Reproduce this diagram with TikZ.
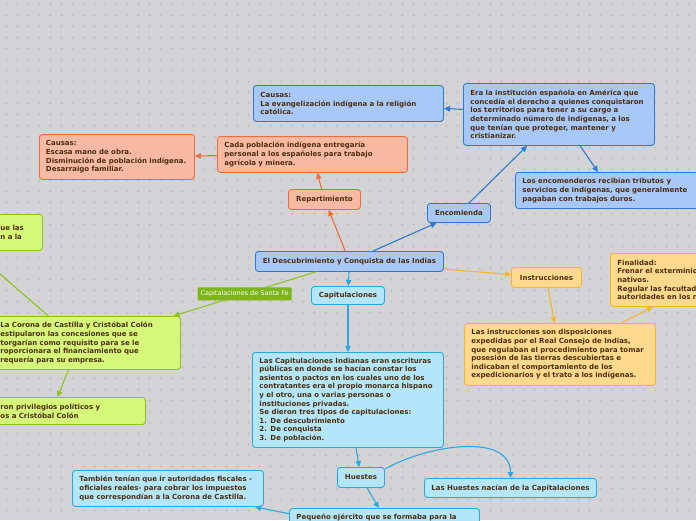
\documentclass[tikz,border=0pt]{standalone}
\usepackage{fontspec}
\setmainfont{DejaVu Sans}
\usetikzlibrary{arrows.meta}
\definecolor{bgmap}{HTML}{D4D4D6}
\definecolor{bgdot}{HTML}{C4C4C8}
\definecolor{txtbrown}{HTML}{4D2E0C}
\definecolor{blfill}{HTML}{A8C8FA}
\definecolor{blline}{HTML}{2E78D8}
\definecolor{safill}{HTML}{F9B9A2}
\definecolor{saline}{HTML}{F26B3A}
\definecolor{grfill}{HTML}{D5F87B}
\definecolor{grline}{HTML}{8EC31E}
\definecolor{grtag}{HTML}{7CB518}
\definecolor{yefill}{HTML}{FFD98E}
\definecolor{yeline}{HTML}{F6B52B}
\definecolor{cyfill}{HTML}{B3E5FB}
\definecolor{cyline}{HTML}{2BA8E3}

\begin{document}
\begin{tikzpicture}[x=1pt,y=-1pt,font=\fontsize{7}{8.6}\selectfont\bfseries,
  bx/.style={rounded corners=3pt,line width=0.9pt,text=txtbrown,anchor=north west,align=left,inner xsep=7pt,inner ysep=2pt},
  tg/.style={bx,align=center,inner xsep=3pt},
  sz/.style 2 args={minimum width=#1,minimum height=#2},
  bl/.style={fill=blfill,draw=blline},
  sa/.style={fill=safill,draw=saline},
  gr/.style={fill=grfill,draw=grline},
  ye/.style={fill=yefill,draw=yeline},
  cy/.style={fill=cyfill,draw=cyline},
  sft/.style={fill=grtag,text=white,font=\fontsize{6.5}{7}\selectfont\mdseries,rounded corners=1pt,inner xsep=3pt,minimum height=12},
  ar/.style={color=#1,line width=1.1pt,-{Triangle[length=6pt,width=5.5pt]}}]
  \useasboundingbox (0,0) rectangle (696,520);
  \clip (0,0) rectangle (696,520);
  \fill[bgmap] (0,0) rectangle (696,520);
  \draw[bgdot,line width=0.5pt] \foreach \x in {6,17,...,696} {\foreach \y in {4,15,...,520} {(\x-1.5,\y) -- (\x+1.5,\y) (\x,\y-1.5) -- (\x,\y+1.5)}};

  % encomienda
  \node[bx,bl,text width=176pt,minimum height=36] (cb) at (253,85) {Causas:\\La evangelización indígena a la religión\\católica.};
  \node[bx,bl,text width=177pt,minimum height=62] (ei) at (463,83) {Era la institución española en América que\\concedía el derecho a quienes conquistaron\\los territorios para tener a su cargo a\\determinado número de indígenas, a los\\que tenían que proteger, mantener y\\cristianizar.};
  \node[bx,bl,text width=176pt,minimum height=36] (le) at (515,172) {Los encomenderos recibían tributos y\\servicios de indígenas, que generalmente\\pagaban con trabajos duros.};
  \node[tg,bl,sz={63}{19}] (enc) at (427,203) {Encomienda};
  \node[tg,bl,sz={188}{20}] (main) at (255,251) {El Descubrimiento y Conquista de las Indias};

  % repartimiento
  \node[bx,sa,inner xsep=6.5pt,text width=142pt,minimum height=45] (cs) at (39,134) {Causas:\\Escasa mano de obra.\\Disminución de población indígena.\\Desarraigo familiar.};
  \node[bx,sa,text width=176pt,minimum height=36] (cp) at (217,136) {Cada población indígena entregaría\\personal a los españoles para trabajo\\agrícola y minera.};
  \node[tg,sa,sz={72}{20}] (rep) at (288,189) {Repartimiento};

  % santa fe
  \node[bx,gr,inner xsep=8pt,text width=34pt,minimum height=36] (tl) at (-8,214) {ue las\\n a la};
  \node[bx,gr,inner xsep=8pt,text width=172pt,minimum height=53] (cor) at (-8,316) {La Corona de Castilla y Cristóbal Colón\\estipularon las concesiones que se\\torgarían como requisito para se le\\roporcionara el financiamiento que\\requería para su empresa.};
  \node[bx,gr,inner xsep=8pt,text width=137pt,minimum height=27] (pri) at (-8,397) {ron privilegios políticos y\\os a Cristóbal Colón};

  % instrucciones
  \node[tg,ye,sz={70}{20}] (ins) at (511,267) {Instrucciones};
  \node[bx,ye,text width=176pt,minimum height=53] (fin) at (610,253) {Finalidad:\\Frenar el exterminio\\nativos.\\Regular las facultad\\autoridades en los n};
  \node[bx,ye,text width=177pt,minimum height=62] (li) at (464,323) {Las instrucciones son disposiciones\\expedidas por el Real Consejo de Indias,\\que regulaban el procedimiento para tomar\\posesión de las tierras descubiertas e\\indicaban el comportamiento de los\\expedicionarios y el trato a los indígenas.};

  % capitulaciones
  \node[tg,cy,sz={73}{18}] (cap) at (311,286) {Capitulaciones};
  \node[bx,cy,text width=177pt,minimum height=95] (ci) at (252,352) {Las Capitulaciones Indianas eran escrituras\\públicas en donde se hacían constar los\\asientos o pactos en los cuales uno de los\\contratantes era el propio monarca hispano\\y el otro, una o varias personas o\\instituciones privadas.\\Se dieron tres tipos de capitulaciones:\\1. De descubrimiento\\2. De conquista\\3. De población.};
  \node[tg,cy,sz={47}{20}] (hue) at (337,467) {Huestes};
  \node[tg,cy,sz={172}{19}] (hn) at (424,478) {Las Huestes nacían de la Capitalaciones};
  \node[bx,cy,text width=177pt,minimum height=36] (tam) at (72,470) {También tenían que ir autoridades fiscales -\\oficiales reales- para cobrar los impuestos\\que correspondían a la Corona de Castilla.};
  \node[bx,cy,text width=176pt,inner ysep=6pt,text height=5pt,text depth=1.5pt] (peq) at (289,508) {Pequeño ejército que se formaba para la};

  \draw[ar=saline] (main) -- (rep);
  \draw[ar=saline] (rep) -- (cp);
  \draw[ar=saline] (cp) -- (cs);
  \draw[ar=blline] (main) -- (enc);
  \draw[ar=blline] (enc) -- (ei);
  \draw[ar=blline] (ei) -- (cb);
  \draw[ar=blline] (ei) -- (le);
  \draw[ar=grline] (main) -- node[sft] (sf) {Capitalaciones de Santa Fe} (cor);
  \coordinate (offl) at (-30,248);
  \draw[ar=grline] ([xshift=-38pt]cor.north) -- (offl);
  \draw[ar=grline] ([xshift=-18pt]cor.south) -- ([xshift=-11.5pt]pri.north);
  \draw[ar=cyline] (main) -- (cap);
  \draw[ar=cyline] (cap) -- (ci);
  \draw[ar=cyline] (ci) -- (hue);
  \draw[ar=cyline] ([yshift=-2pt]hue.north east) .. controls +(45,-25) and +(0,-45) .. (hn.north);
  \draw[ar=cyline] (hue) -- (peq);
  \draw[ar=cyline] ([yshift=4pt]peq.west) -- ([xshift=-9pt]tam.south east);
  \draw[ar=yeline] (main) -- (ins);
  \draw[ar=yeline] (ins) -- (li);
  \draw[ar=yeline] (li) -- (fin);
\end{tikzpicture}
\end{document}
